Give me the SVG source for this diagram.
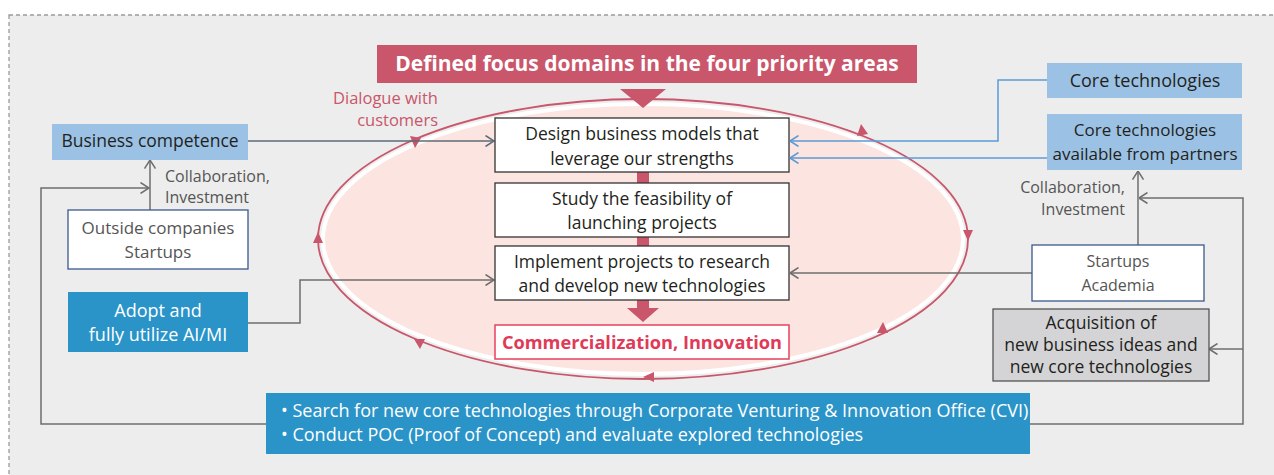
<svg xmlns="http://www.w3.org/2000/svg" width="1274" height="475" viewBox="0 0 1274 475">
<defs>
<style>
.t{font-family:"Open Sans","Noto Sans","Liberation Sans",sans-serif;font-size:17.5px;fill:#231f20;text-anchor:middle}
.g{font-family:"Open Sans","Noto Sans","Liberation Sans",sans-serif;font-size:16px;fill:#555}
.w{fill:#fff}
.ln{fill:none;stroke:#6e6e6e;stroke-width:1.5}
.lb{fill:none;stroke:#5b9bd5;stroke-width:1.5}
.ls{fill:none;stroke:#5c6b78;stroke-width:1.5}
.box{fill:#fff;stroke:#333;stroke-width:1.3}
.red{fill:#c9566a}
</style>
<marker id="ah" viewBox="0 0 10 12" refX="9.5" refY="6" markerWidth="10" markerHeight="12" markerUnits="userSpaceOnUse" orient="auto">
<path d="M1,0.5 L9.5,6 L1,11.5" fill="none" stroke="#6e6e6e" stroke-width="1.5"/>
</marker>
<marker id="ahb" viewBox="0 0 10 12" refX="9.5" refY="6" markerWidth="10" markerHeight="12" markerUnits="userSpaceOnUse" orient="auto">
<path d="M1,0.5 L9.5,6 L1,11.5" fill="none" stroke="#5b9bd5" stroke-width="1.5"/>
</marker>
<marker id="ahs" viewBox="0 0 10 12" refX="9.5" refY="6" markerWidth="10" markerHeight="12" markerUnits="userSpaceOnUse" orient="auto">
<path d="M1,0.5 L9.5,6 L1,11.5" fill="none" stroke="#5c6b78" stroke-width="1.5"/>
</marker>
</defs>

<rect x="0" y="0" width="1274" height="475" fill="#fff"/>
<rect x="9" y="15" width="1275" height="470" fill="#ededed" stroke="#9a9a9a" stroke-width="1.3" stroke-dasharray="4 3"/>

<g id="cycle">
<ellipse cx="643" cy="239" rx="325" ry="140" fill="none" stroke="#c9566a" stroke-width="1.8"/>
<ellipse cx="643" cy="239" rx="320" ry="135" fill="#fce4e0" stroke="#fff" stroke-width="4"/>
<g class="red">
<polygon points="410,136 421,138 415,148"/>
<polygon points="857,136 868,134 861,124"/>
<polygon points="313,243 323,243 318,232"/>
<polygon points="963,230 973,230 968,241"/>
<polygon points="414,339 425,339 420,349"/>
<polygon points="877,333 888,333 883,322"/>
<polygon points="654,372 654,382 643,377"/>
</g>
<text x="438" y="104" style="font-family:'Open Sans','Noto Sans','Liberation Sans',sans-serif;font-size:16.5px;fill:#c9566a;text-anchor:end">Dialogue with</text>
<text x="438" y="126" style="font-family:'Open Sans','Noto Sans','Liberation Sans',sans-serif;font-size:16.5px;fill:#c9566a;text-anchor:end">customers</text>
</g>

<g id="connectors">
<polygon class="red" points="620,89 666,89 643,108"/>
<rect class="red" x="637" y="171" width="12" height="13"/>
<rect class="red" x="637" y="236" width="12" height="11"/>
<polygon class="red" points="637,299 649,299 649,308 659,308 643,322 627,308 637,308"/>
<path class="ls" d="M248,141 H494" marker-end="url(#ahs)"/>
<path class="lb" d="M1047,80 H998 V141 H790" marker-end="url(#ahb)"/>
<path class="lb" d="M1047,158 H790" marker-end="url(#ahb)"/>
<path class="ln" d="M150,210 V160" marker-end="url(#ah)"/>
<path class="ln" d="M266,424 H41 V188 H149" marker-end="url(#ah)"/>
<path class="ln" d="M248,323 H300 V280 H494" marker-end="url(#ah)"/>
<path class="ln" d="M1032,273 H790" marker-end="url(#ah)"/>
<path class="ln" d="M1138,245 V171" marker-end="url(#ah)"/>
<path class="ln" d="M1030,424 H1243 V198 H1139" marker-end="url(#ah)"/>
<path class="ln" d="M1243,349 H1209" marker-end="url(#ah)"/>
<text class="g" x="165" y="182">Collaboration,</text>
<text class="g" x="165" y="203">Investment</text>
<text class="g" x="1125" y="193" text-anchor="end">Collaboration,</text>
<text class="g" x="1125" y="215" text-anchor="end">Investment</text>
</g>

<g id="title">
<rect x="377" y="45" width="540" height="38" fill="#c9566a"/>
<text x="647" y="71" style="font-family:'Open Sans','Noto Sans','Liberation Sans',sans-serif;font-size:21px;font-weight:bold;fill:#fff;text-anchor:middle">Defined focus domains in the four priority areas</text>
</g>

<g id="design">
<rect class="box" x="495" y="118" width="294" height="54"/>
<text class="t" x="642" y="140">Design business models that</text>
<text class="t" x="642" y="165">leverage our strengths</text>
</g>
<g id="study">
<rect class="box" x="495" y="183" width="294" height="54"/>
<text class="t" x="642" y="205">Study the feasibility of</text>
<text class="t" x="642" y="229">launching projects</text>
</g>
<g id="implement">
<rect class="box" x="495" y="246" width="294" height="54"/>
<text class="t" x="642" y="268">Implement projects to research</text>
<text class="t" x="642" y="292">and develop new technologies</text>
</g>
<g id="commercialization">
<rect x="495" y="325" width="294" height="34" fill="#fff" stroke="#e8405e" stroke-width="1.5"/>
<text class="t" x="642" y="349" style="font-weight:bold;fill:#e03a58;font-size:18.2px">Commercialization, Innovation</text>
</g>

<g id="business">
<rect x="52" y="124" width="196" height="36" fill="#9bc2e4"/>
<text class="t" x="150" y="147">Business competence</text>
</g>
<g id="outside">
<rect x="68" y="210" width="180" height="59" fill="#fff" stroke="#3a5a8c" stroke-width="1.3"/>
<text class="g" x="158" y="234" text-anchor="middle" style="font-size:17px">Outside companies</text>
<text class="g" x="158" y="258" text-anchor="middle" style="font-size:17px">Startups</text>
</g>
<g id="adopt">
<rect x="68" y="292" width="180" height="60" fill="#2a94c9"/>
<text class="t w" x="158" y="317" style="font-size:18px">Adopt and</text>
<text class="t w" x="158" y="341" style="font-size:18px">fully utilize AI/MI</text>
</g>

<g id="core">
<rect x="1047" y="63" width="195" height="35" fill="#9bc2e4"/>
<text class="t" x="1145" y="87" style="font-size:18px">Core technologies</text>
</g>
<g id="partners">
<rect x="1047" y="114" width="195" height="56" fill="#9bc2e4"/>
<text class="t" x="1145" y="136" style="font-size:17px">Core technologies</text>
<text class="t" x="1145" y="160" style="font-size:17px">available from partners</text>
</g>
<g id="startups">
<rect x="1032" y="245" width="172" height="56" fill="#fff" stroke="#3a5a8c" stroke-width="1.3"/>
<text class="g" x="1118" y="267" text-anchor="middle">Startups</text>
<text class="g" x="1118" y="291" text-anchor="middle">Academia</text>
</g>
<g id="acquisition">
<rect x="993" y="309" width="216" height="72" fill="#d4d4d6" stroke="#555" stroke-width="1.3"/>
<text class="t" x="1101" y="329">Acquisition of</text>
<text class="t" x="1101" y="351">new business ideas and</text>
<text class="t" x="1101" y="373">new core technologies</text>
</g>
<g id="cvi">
<rect x="266" y="393" width="764" height="61" fill="#2a94c9"/>
<text class="w" x="281" y="417" style="font-family:'Open Sans','Noto Sans','Liberation Sans',sans-serif;font-size:18px">• Search for new core technologies through Corporate Venturing &amp; Innovation Office (CVI)</text>
<text class="w" x="281" y="441" style="font-family:'Open Sans','Noto Sans','Liberation Sans',sans-serif;font-size:18px">• Conduct POC (Proof of Concept) and evaluate explored technologies</text>
</g>
</svg>
